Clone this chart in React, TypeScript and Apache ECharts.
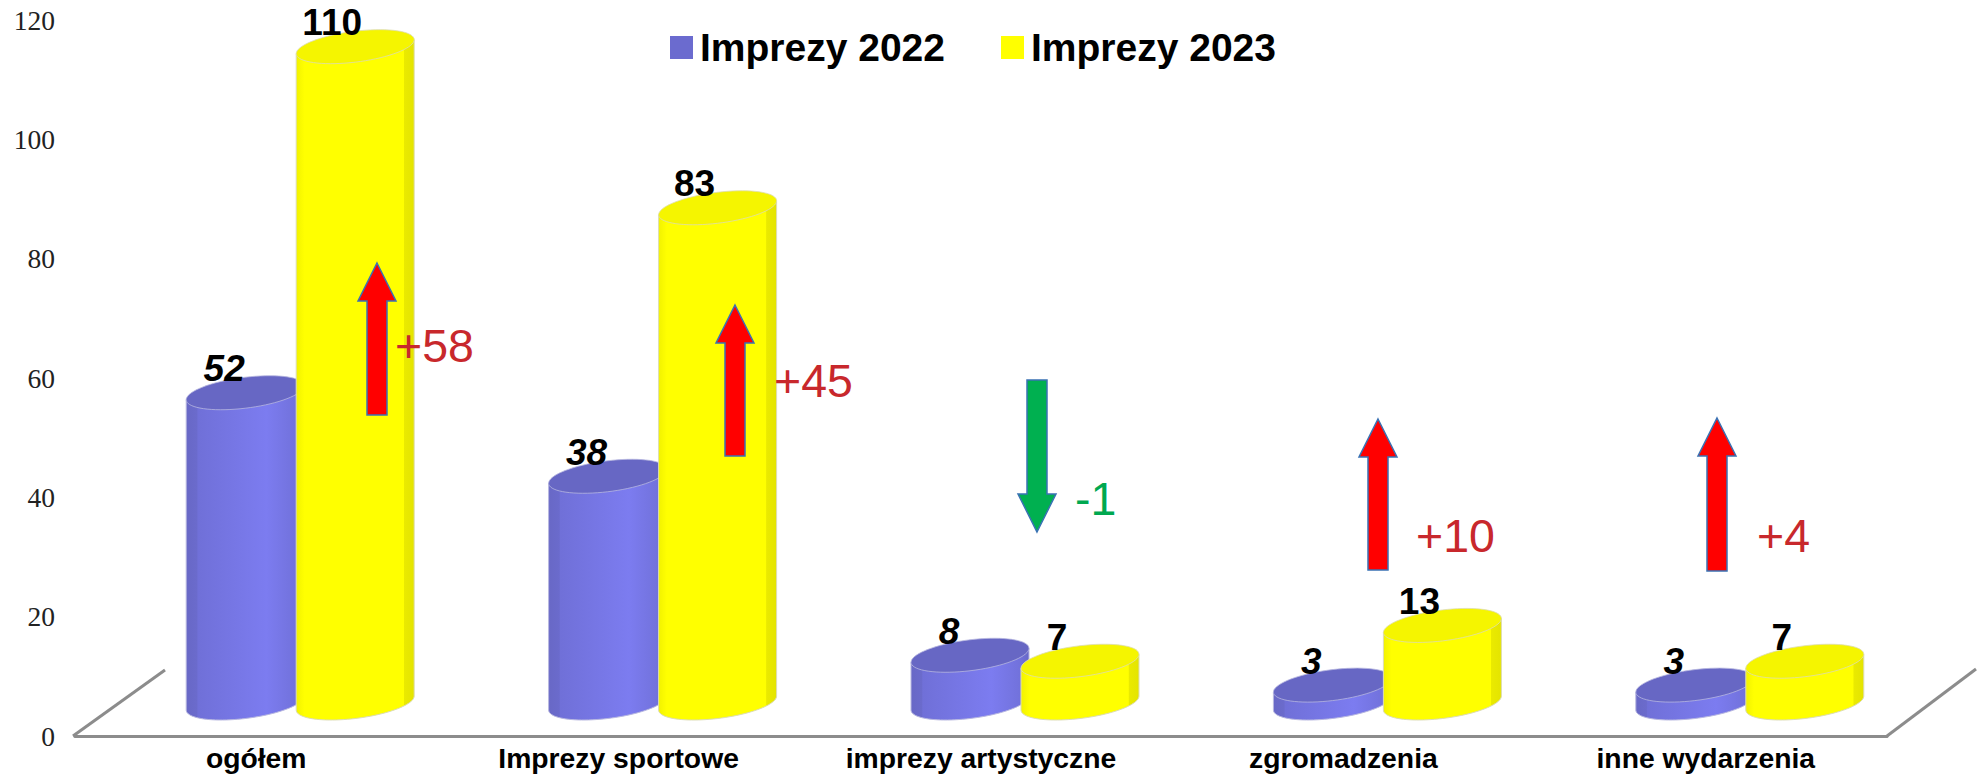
import React, { useEffect, useRef } from "react";
import * as echarts from "echarts";

const categories = ["ogółem", "Imprezy sportowe", "imprezy artystyczne", "zgromadzenia", "inne wydarzenia"];
const seriesNames = ["Imprezy 2022", "Imprezy 2023"];
const values2022 = [52, 38, 8, 3, 3];
const values2023 = [110, 83, 7, 13, 7];
const deltas = ["+58", "+45", "-1", "+10", "+4"];
const yTicks = { min: 0, max: 120, interval: 20 };

const W = 1986;
const H = 777;
const GRID = { left: 75, right: 1887, top: 20, bottom: 736 };
const DEPTH = 33;
const A = 59;
const K = 7;
const B = 15.5;
const SANS = '"Liberation Sans", Arial, sans-serif';

const RED = "#ff0000";
const GREEN = "#00b050";
const TEXT_RED = "#c8282c";
const TEXT_GREEN = "#00a850";
const FLOOR = "#8c8c8c";

// annotation layout: x centre, tip y, tail y of each arrow; text anchor of each delta
const arrowX = [377, 735, 1037, 1378, 1717];
const arrowTip = [263, 305, 532, 419, 418];
const arrowTail = [415, 456, 380, 570, 571];
const deltaX = [395, 774, 1075, 1416, 1757];
const deltaY = [346, 381, 499, 536, 536];

function ellipsePoints(cx: number, cy: number, from: number, to: number, n: number) {
  const pts: number[][] = [];
  for (let i = 0; i <= n; i++) {
    const t = from + ((to - from) * i) / n;
    pts.push([cx + A * Math.cos(t), cy - K * Math.cos(t) + B * Math.sin(t)]);
  }
  return pts;
}

function cylinderRenderer(opts: {
  offset: number;
  labelDx: number;
  italic: boolean;
  top: string;
  stroke: string;
  body: { offset: number; color: string }[];
}) {
  return (_params: any, api: any) => {
    const cat = api.value(0);
    const val = api.value(1);
    const [px, py] = api.coord([cat, val]);
    const cx = px + opts.offset;
    const yTop = py - DEPTH;
    const yBase = api.coord([cat, 0])[1] - DEPTH;
    const bottomArc = ellipsePoints(cx, yBase, 0, Math.PI, 48);
    const bodyPts = [...bottomArc, [cx - A, yTop + K], [cx + A, yTop - K]];
    const topPts = ellipsePoints(cx, yTop, 0, Math.PI * 2, 72);
    return {
      type: "group",
      children: [
        {
          type: "polygon",
          shape: { points: bodyPts },
          style: {
            fill: new echarts.graphic.LinearGradient(0, 0, 1, 0, opts.body),
            stroke: opts.stroke,
            lineWidth: 1,
          },
        },
        {
          type: "polygon",
          shape: { points: topPts },
          style: { fill: opts.top, stroke: opts.stroke, lineWidth: 0.8 },
        },
        {
          type: "text",
          x: cx + opts.labelDx,
          y: yTop - 24,
          style: {
            text: String(val),
            font: `${opts.italic ? "italic " : ""}bold 37px ${SANS}`,
            fill: "#000",
            align: "center",
            verticalAlign: "middle",
          },
        },
      ],
    };
  };
}

function arrow(i: number) {
  const x = arrowX[i];
  const tip = arrowTip[i];
  const tail = arrowTail[i];
  const dir = tail > tip ? 1 : -1;
  const headEnd = tip + dir * 38;
  return {
    type: "polygon",
    z: 100,
    shape: {
      points: [
        [x, tip],
        [x + 19, headEnd],
        [x + 10, headEnd],
        [x + 10, tail],
        [x - 10, tail],
        [x - 10, headEnd],
        [x - 19, headEnd],
      ],
    },
    style: { fill: dir > 0 ? RED : GREEN, stroke: "#3a72b4", lineWidth: 1.5 },
  };
}

function deltaText(i: number) {
  return {
    type: "text",
    z: 101,
    x: deltaX[i],
    y: deltaY[i],
    style: {
      text: deltas[i],
      font: `46.5px ${SANS}`,
      fill: deltas[i].startsWith("-") ? TEXT_GREEN : TEXT_RED,
      align: "left",
      verticalAlign: "middle",
    },
  };
}

export default function App() {
  const ref = useRef<HTMLDivElement>(null);
  useEffect(() => {
    document.body.style.margin = "0";
    document.body.style.overflow = "hidden";
    const chart = echarts.init(ref.current!, null, { renderer: "svg" });
    chart.setOption({
      animation: false,
      backgroundColor: "#ffffff",
      legend: {
        left: 665,
        top: 23,
        itemWidth: 23,
        itemHeight: 23,
        itemGap: 56,
        data: seriesNames.map((name) => ({ name, icon: "rect" })),
        textStyle: {
          fontFamily: SANS,
          fontWeight: "bold",
          fontSize: 39,
          color: "#000",
          padding: [0, 0, 0, 2],
        },
      },
      grid: {
        left: GRID.left,
        top: GRID.top,
        width: GRID.right - GRID.left,
        height: GRID.bottom - GRID.top,
        containLabel: false,
      },
      xAxis: {
        type: "category",
        data: categories,
        axisLine: { lineStyle: { color: FLOOR, width: 3 } },
        axisTick: { show: false },
        axisLabel: {
          margin: 8,
          color: "#000",
          fontFamily: SANS,
          fontWeight: "bold",
          fontSize: 28.3,
          interval: 0,
        },
      },
      yAxis: {
        type: "value",
        min: yTicks.min,
        max: yTicks.max,
        interval: yTicks.interval,
        axisLine: { show: false },
        axisTick: { show: false },
        splitLine: { show: false },
        axisLabel: {
          margin: 20,
          color: "#222",
          fontFamily: '"Liberation Serif", serif',
          fontSize: 27.5,
          padding: [0, 0, 5, 0],
        },
      },
      series: [
        {
          type: "custom",
          name: seriesNames[0],
          data: values2022.map((v, i) => [i, v]),
          encode: { x: 0, y: 1 },
          itemStyle: { color: "#6b6bcf" },
          clip: false,
          renderItem: cylinderRenderer({
            offset: -11,
            labelDx: -21,
            italic: true,
            top: "#6767c4",
            stroke: "#b8b8e0",
            body: [
              { offset: 0, color: "#6868c6" },
              { offset: 0.09, color: "#6b6bcc" },
              { offset: 0.1, color: "#7070d8" },
              { offset: 0.68, color: "#7c7cf0" },
              { offset: 0.92, color: "#7272dc" },
              { offset: 1, color: "#6868c6" },
            ],
          }),
        },
        {
          type: "custom",
          name: seriesNames[1],
          data: values2023.map((v, i) => [i, v]),
          encode: { x: 0, y: 1 },
          itemStyle: { color: "#ffff00" },
          clip: false,
          renderItem: cylinderRenderer({
            offset: 99,
            labelDx: -23,
            italic: false,
            top: "#f5f500",
            stroke: "#dcdcb4",
            body: [
              { offset: 0, color: "#f2f200" },
              { offset: 0.07, color: "#ffff00" },
              { offset: 0.91, color: "#ffff00" },
              { offset: 0.915, color: "#eaea00" },
              { offset: 1, color: "#e4e400" },
            ],
          }),
        },
      ],
      graphic: [
        {
          type: "line",
          z: 1,
          shape: { x1: GRID.left - 2, y1: GRID.bottom, x2: 165, y2: 670 },
          style: { stroke: FLOOR, lineWidth: 3 },
        },
        {
          type: "line",
          z: 1,
          shape: { x1: GRID.right, y1: GRID.bottom, x2: 1976, y2: 669 },
          style: { stroke: FLOOR, lineWidth: 3 },
        },
        ...deltas.map((_, i) => arrow(i)),
        ...deltas.map((_, i) => deltaText(i)),
      ],
    });
    return () => chart.dispose();
  }, []);
  return <div ref={ref} style={{ width: W, height: H }} />;
}
